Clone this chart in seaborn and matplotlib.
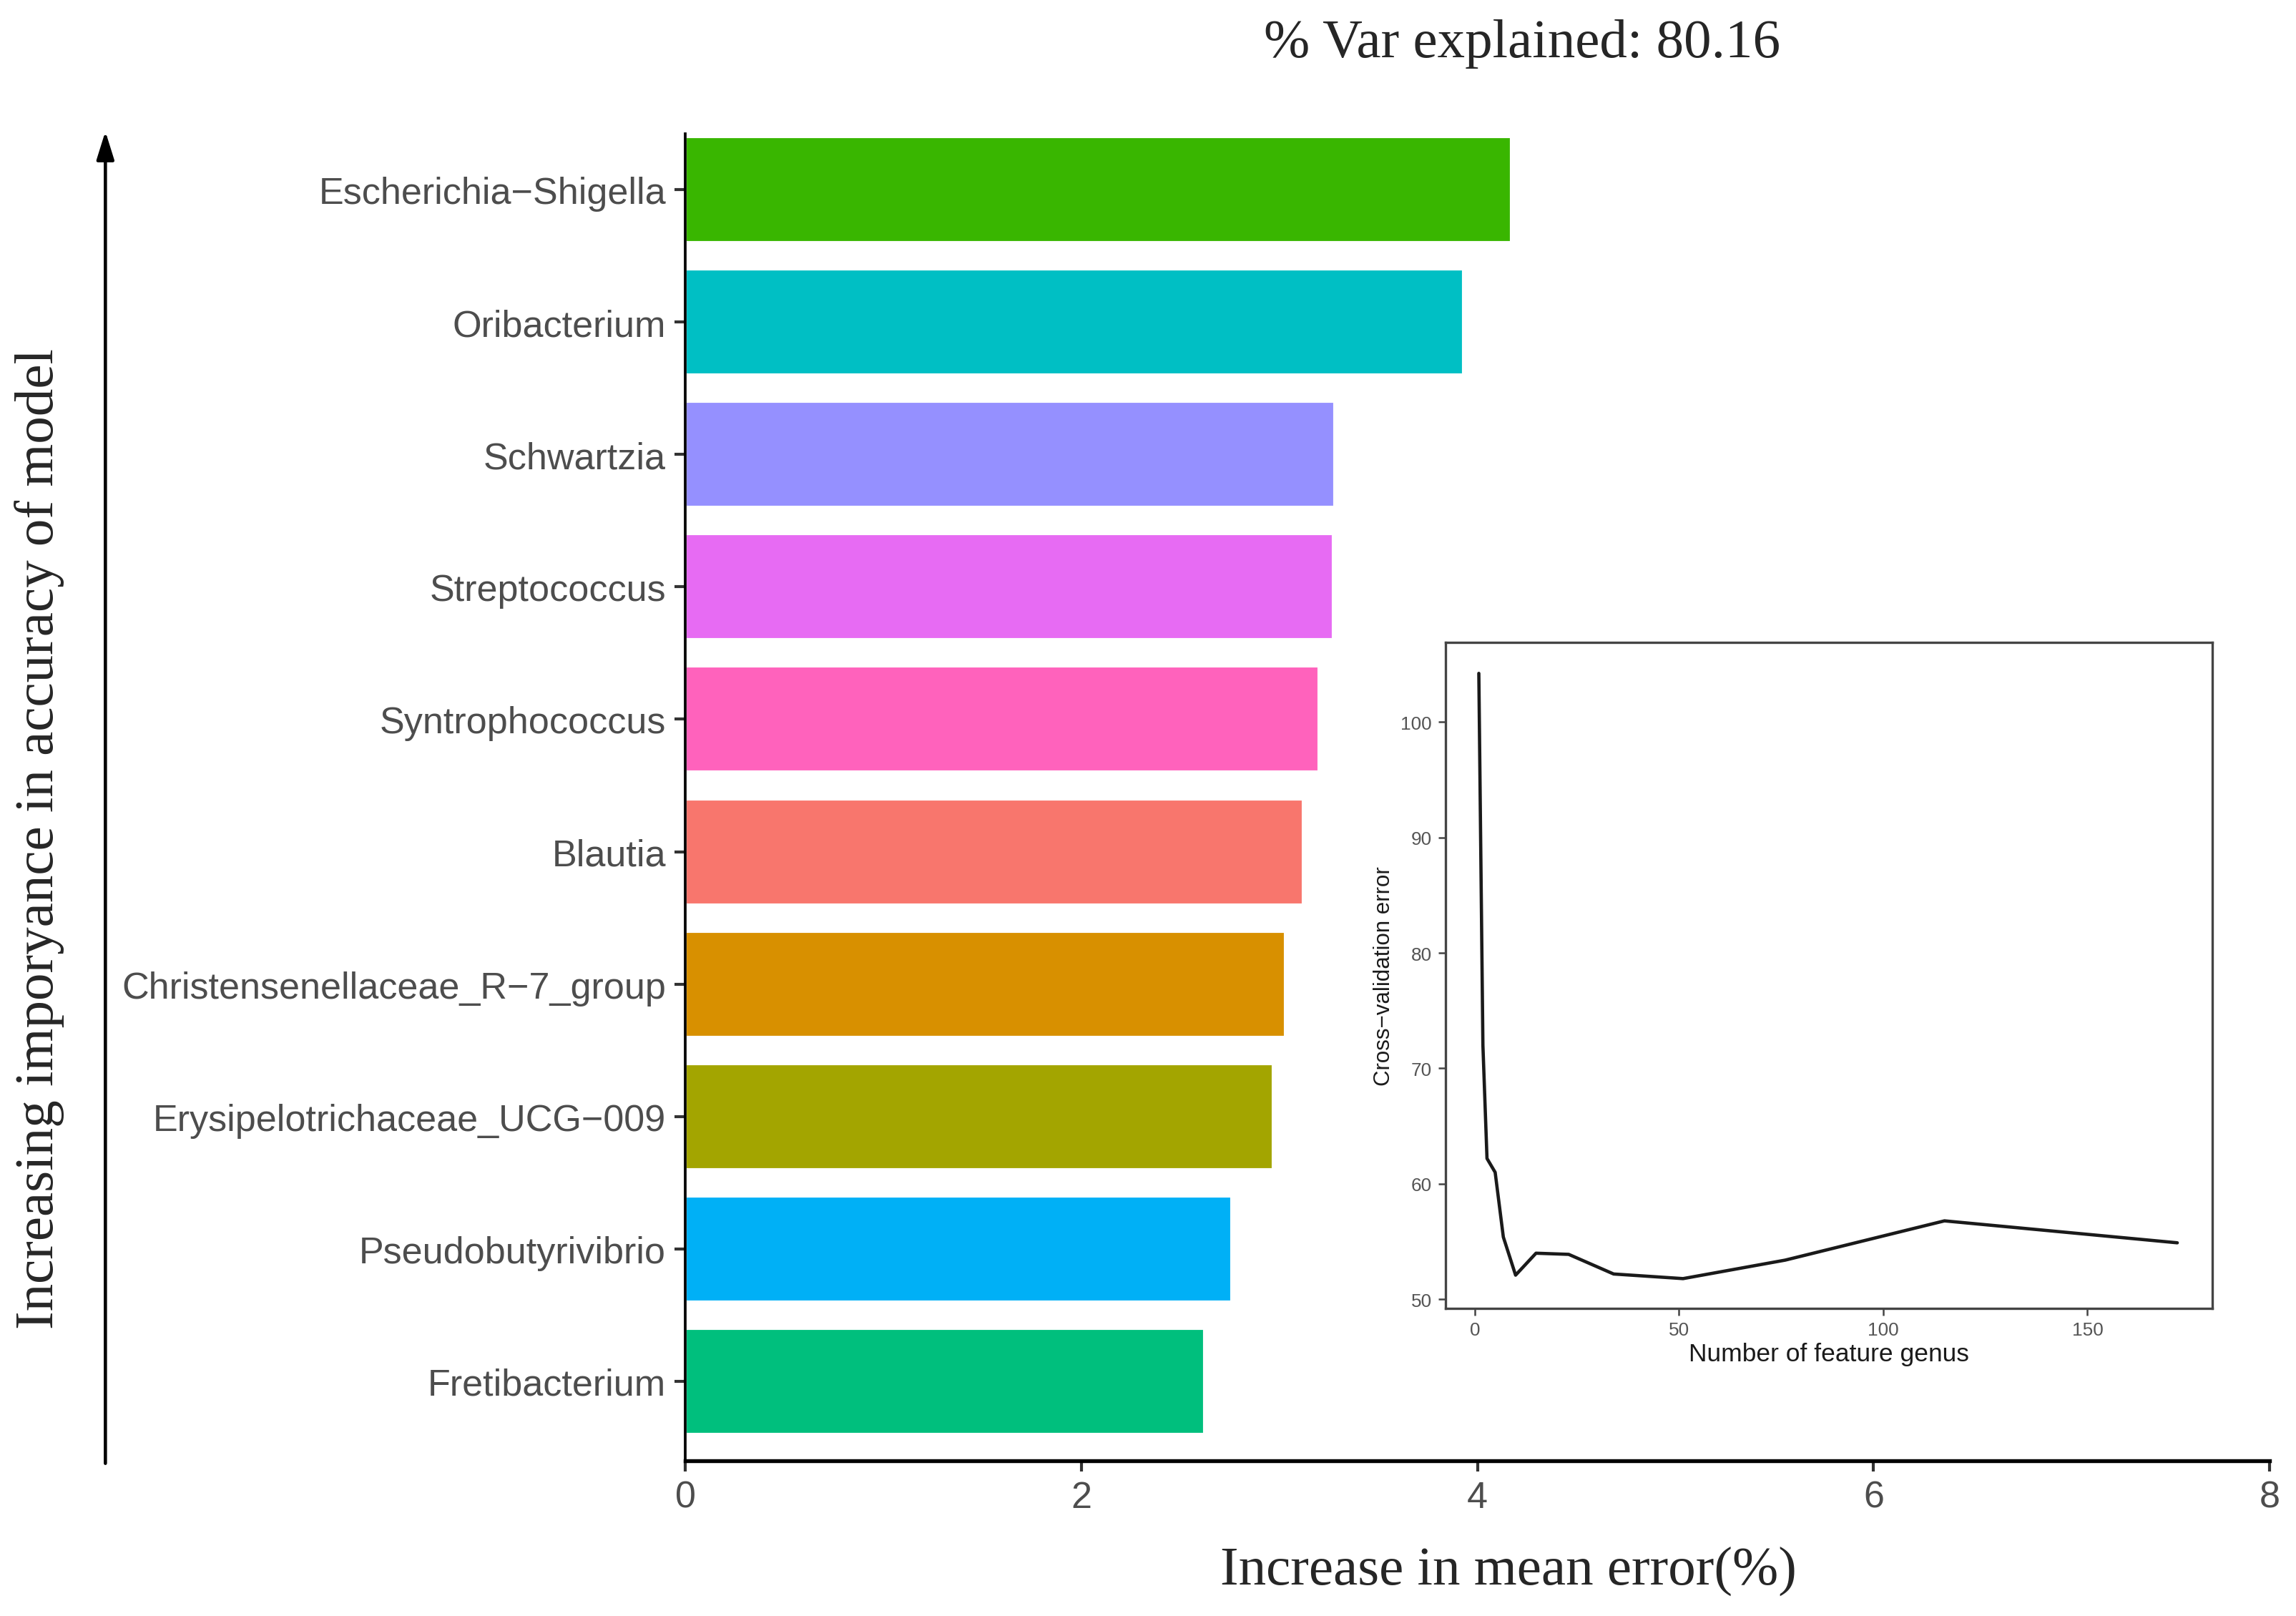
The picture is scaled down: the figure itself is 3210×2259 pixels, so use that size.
import numpy as np
import pandas as pd
import matplotlib
matplotlib.use('Agg')
import matplotlib.pyplot as plt
import seaborn as sns

# Importancia dos generos (barras)
genera = ['Escherichia\u2212Shigella', 'Oribacterium', 'Schwartzia', 'Streptococcus',
          'Syntrophococcus', 'Blautia', 'Christensenellaceae_R\u22127_group',
          'Erysipelotrichaceae_UCG\u2212009', 'Pseudobutyrivibrio', 'Fretibacterium']
increase_mse = [4.17, 3.93, 3.28, 3.27, 3.20, 3.12, 3.03, 2.97, 2.76, 2.62]
bar_colors = ['#39B600', '#00BFC4', '#9590FF', '#E76BF3', '#FF62BC',
              '#F8766D', '#D89000', '#A3A500', '#00B0F6', '#00BF7D']

# Curva de validacao cruzada (inset)
n_genus = [1, 2, 3, 5, 7, 10, 15, 23, 34, 51, 76, 115, 172]
cv_error = [104.2, 72.0, 62.2, 61.0, 55.4, 52.1, 54.0, 53.9, 52.2, 51.8, 53.4, 56.8, 54.9]

xticks_main = [0, 2, 4, 6, 8]
xticks_inset = [0, 50, 100, 150]
yticks_inset = [50, 60, 70, 80, 90, 100]

sns.set_style('white')
plt.rcParams['font.family'] = ['Liberation Sans', 'DejaVu Sans']

df = pd.DataFrame({'genus': genera, 'value': increase_mse})
df_cv = pd.DataFrame({'n': n_genus, 'err': cv_error})

fig = plt.figure(figsize=(10.7, 7.5333), dpi=300)
ax = fig.add_axes([0.2985, 0.0961, 0.69, 0.8205])

sns.barplot(data=df, x='value', y='genus', hue='genus', palette=bar_colors,
            order=genera, width=0.8, legend=False, saturation=1, ax=ax)
ax.set_xlim(0, 8)
ax.set_ylim(9.6, -0.42)
ax.set_xticks(xticks_main)
ax.set_xticklabels([str(t) for t in xticks_main])
ax.set_xlabel('')
ax.set_ylabel('')
for s in ['top', 'right']:
    ax.spines[s].set_visible(False)
ax.spines['left'].set_color('black')
ax.spines['left'].set_linewidth(0.9)
ax.spines['bottom'].set_color('black')
ax.spines['bottom'].set_linewidth(1.3)
ax.tick_params(axis='both', which='major', length=3.5, width=1, color='#333333',
               labelsize=12.5, labelcolor='#4D4D4D', bottom=True, left=True, pad=3)

# Textos principais em serif
serif = ['Liberation Serif', 'DejaVu Serif']
fig.text(0.663, 0.973, '% Var explained: 80.16', ha='center', va='center',
         fontsize=18.5, family=serif, fontweight='medium')
fig.text(0.657, 0.028, 'Increase in mean error(%)', ha='center', va='center',
         fontsize=18.5, family=serif)
fig.text(0.0172, 0.481, 'Increasing imporyance in accuracy of model', ha='center',
         va='center', rotation=90, fontsize=18.5, family=serif)

# Seta vertical
fig.patches.append(matplotlib.patches.FancyArrowPatch(
    (0.0459, 0.0907), (0.0459, 0.922), transform=fig.transFigure,
    arrowstyle='-|>,head_length=8,head_width=2.5', color='black', lw=1.1))

# Inset
axi = fig.add_axes([0.6295, 0.1904, 0.3341, 0.4116])
sns.lineplot(data=df_cv, x='n', y='err', color='#1a1a1a', lw=1.1, ax=axi)
axi.set_xlim(-7.2, 180.6)
axi.set_ylim(49.24, 106.85)
axi.set_xticks(xticks_inset)
axi.set_yticks(yticks_inset)
axi.set_xlabel('Number of feature genus', fontsize=8.5, color='#1a1a1a', labelpad=1)
axi.set_ylabel('Cross\u2212validation error', fontsize=7.5, color='#1a1a1a', labelpad=2)
axi.tick_params(axis='both', which='major', length=2.5, width=0.6, color='#444444',
                labelsize=6.3, labelcolor='#555555', bottom=True, left=True, pad=2)
for s in axi.spines.values():
    s.set_color('#444444')
    s.set_linewidth(0.8)

fig.savefig('out.png', dpi=300)
